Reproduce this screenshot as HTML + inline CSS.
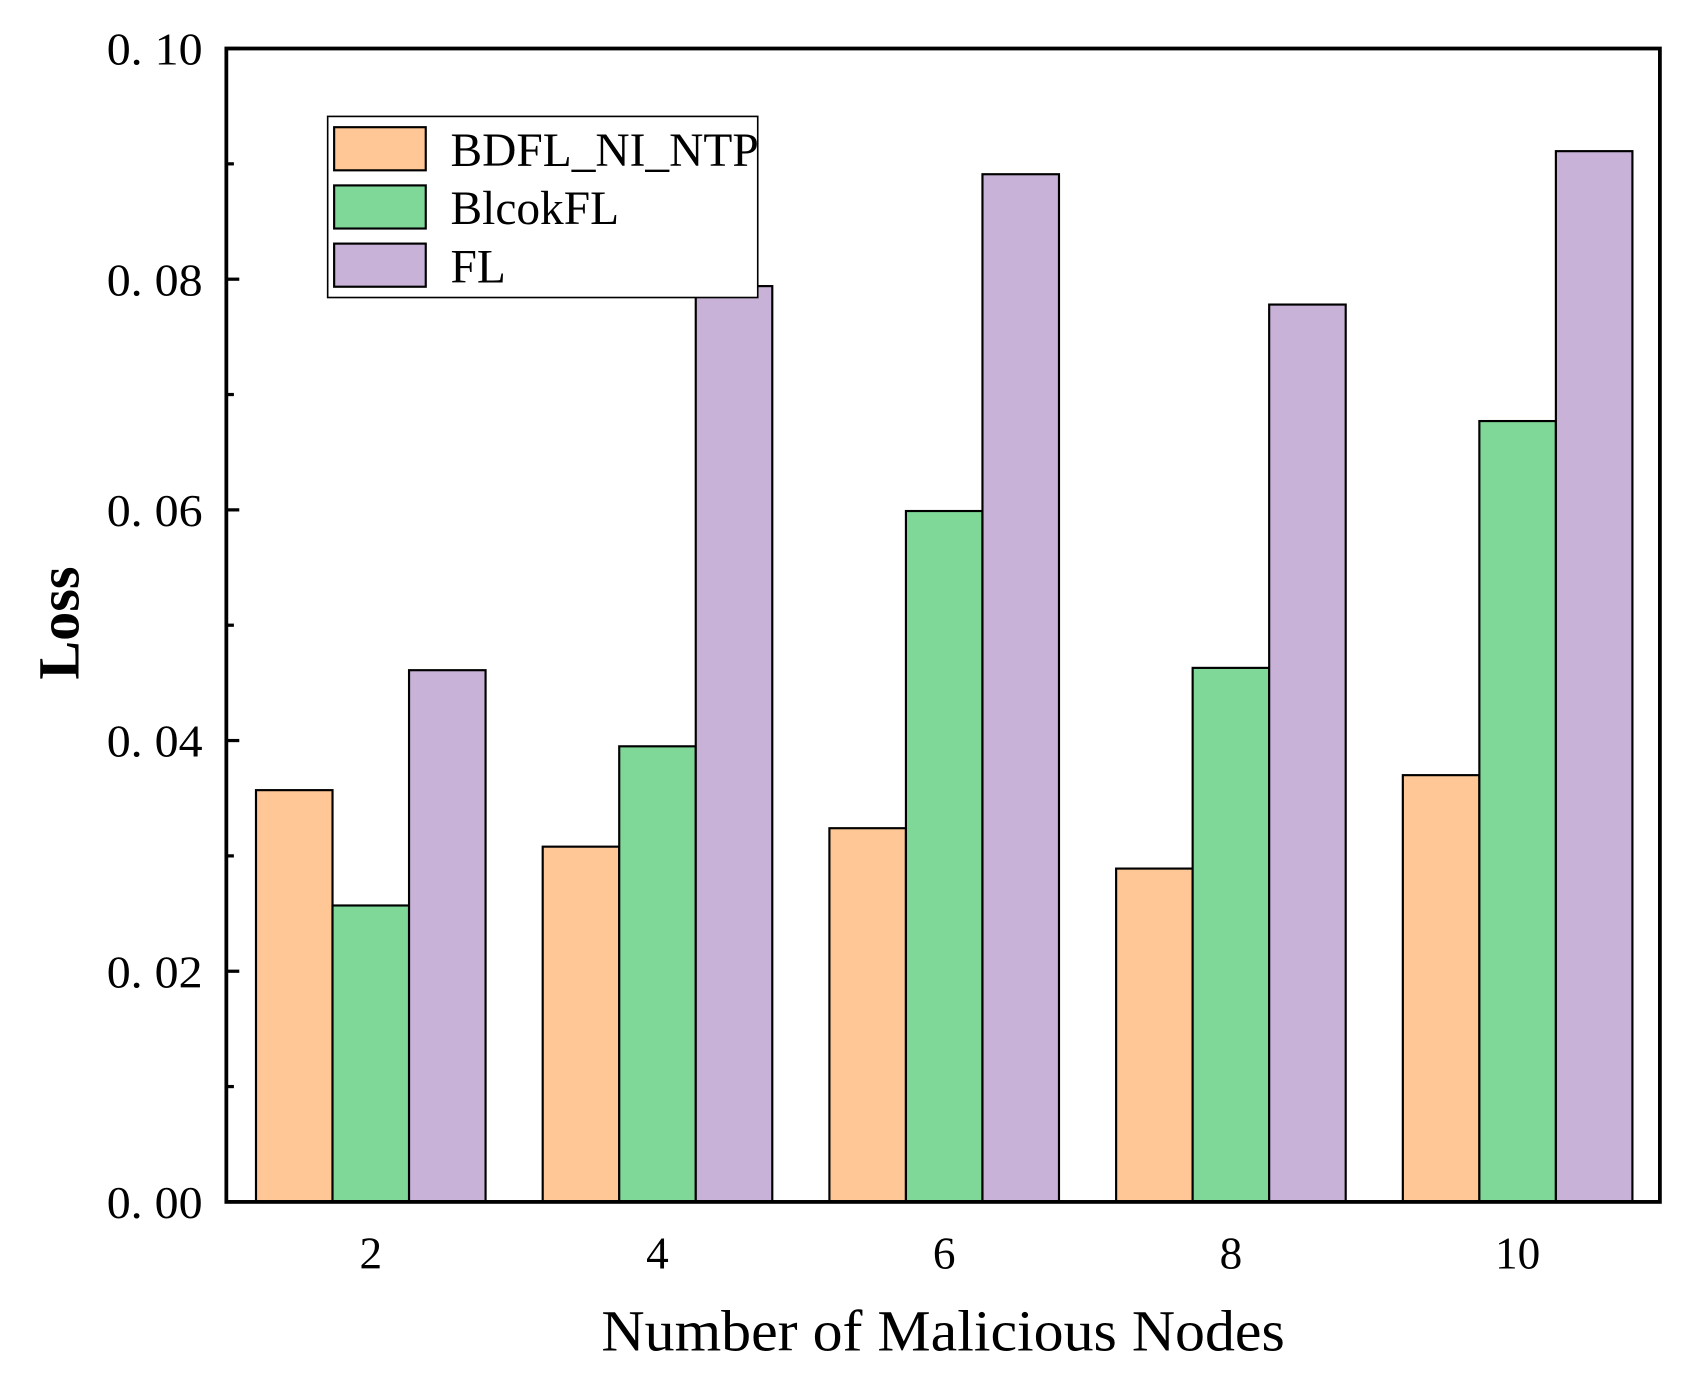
<!DOCTYPE html>
<html><head><meta charset="utf-8"><style>
html,body{margin:0;padding:0;background:#fff;}
svg{display:block;}
text{font-family:"Liberation Serif","Noto Serif CJK SC",serif;fill:#000;}
</style></head><body>
<svg id="chart" width="1689" height="1383" viewBox="0 0 1567 1283" preserveAspectRatio="none" xmlns="http://www.w3.org/2000/svg">
<g id="bars"></g>
<g id="axes"></g>
</svg>
<script>
const categories = ["2","4","6","8","10"];
const seriesNames = ["BDFL_NI_NTP","BlcokFL","FL"];
const bdfl = [0.0357,0.0308,0.0324,0.0289,0.0370];
const blockfl = [0.0257,0.0395,0.0599,0.0463,0.0677];
const fl = [0.0461,0.0794,0.0891,0.0778,0.0911];
const yTicks = [0,0.02,0.04,0.06,0.08,0.10];
const yTickLabels = ["0. 00","0. 02","0. 04","0. 06","0. 08","0. 10"];
const yMinor = [0.01,0.03,0.05,0.07,0.09];

const NS="http://www.w3.org/2000/svg";
const L=210,R=1540,T=45,B=1115;
const colors=["#fec795","#7fd898","#c8b2d7"];
const series=[bdfl,blockfl,fl];
const y=v=>B-(v/0.10)*(B-T);
const groupW=266, barW=71;
const xc=i=>344+i*groupW;
function mk(tag,attrs,parent){const e=document.createElementNS(NS,tag);for(const k in attrs)e.setAttribute(k,attrs[k]);parent.appendChild(e);return e;}
const bars=document.getElementById('bars'), axes=document.getElementById('axes');
series.forEach((s,si)=>{s.forEach((v,i)=>{
  const x=xc(i)-1.5*barW+si*barW;
  const r=mk('rect',{x:x,y:y(v),width:barW,height:B-y(v),fill:colors[si],stroke:'#000','stroke-width':2},bars);
  
  
});});
const frame=mk('rect',{x:L,y:T,width:R-L,height:B-T,fill:'none',stroke:'#000','stroke-width':3.5},axes);


yTicks.forEach((v,i)=>{
  const t=mk('line',{x1:L,x2:L+12,y1:y(v),y2:y(v),stroke:'#000','stroke-width':3},axes);
  
  
  const tx=mk('text',{x:188,y:y(v)+15,'font-size':42,'text-anchor':'end',textLength:89,lengthAdjust:'spacingAndGlyphs'},axes);
  tx.textContent=yTickLabels[i];
  
  
});
yMinor.forEach(v=>{
  const t=mk('line',{x1:L,x2:L+7,y1:y(v),y2:y(v),stroke:'#000','stroke-width':3},axes);
  
  
});
categories.forEach((c,i)=>{
  const tx=mk('text',{x:xc(i),y:1177,'font-size':42,'text-anchor':'middle'},axes);
  tx.textContent=c;
  
  
});
const xt=mk('text',{x:875,y:1253,'font-size':54,'text-anchor':'middle',textLength:634,lengthAdjust:'spacingAndGlyphs'},axes);
xt.textContent='Number of Malicious Nodes';


const yt=mk('text',{x:0,y:0,'font-size':54,'font-weight':'bold','text-anchor':'middle',transform:'translate(73,578) rotate(-90)'},axes);
yt.textContent='Loss';


const lg=mk('g',{},axes);


mk('rect',{x:304,y:108,width:399,height:168,fill:'#fff',stroke:'#000','stroke-width':1.5},lg);
seriesNames.forEach((n,i)=>{
  const yy=118+i*54;
  const sw=mk('rect',{x:310,y:yy,width:85,height:40,fill:colors[i],stroke:'#000','stroke-width':2},lg);
  
  
  const tx=mk('text',{x:418,y:yy+36,'font-size':44},lg);
  tx.textContent=n;
  
  
});
</script>
</body></html>
